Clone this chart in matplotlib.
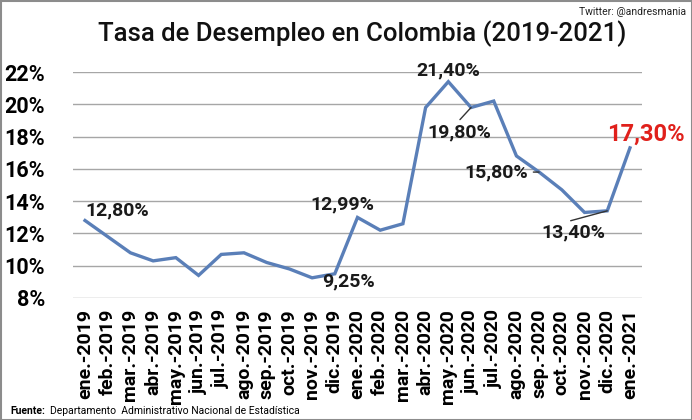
import matplotlib
matplotlib.use("Agg")
import matplotlib.pyplot as plt
from matplotlib.patches import Rectangle

plt.rcParams['font.family'] = ['Roboto', 'DejaVu Sans']

labels = ["ene.-2019", "feb.-2019", "mar.-2019", "abr.-2019", "may.-2019", "jun.-2019",
          "jul.-2019", "ago.-2019", "sep.-2019", "oct.-2019", "nov.-2019", "dic.-2019",
          "ene.-2020", "feb.-2020", "mar.-2020", "abr.-2020", "may.-2020", "jun.-2020",
          "jul.-2020", "ago.-2020", "sep.-2020", "oct.-2020", "nov.-2020", "dic.-2020",
          "ene.-2021"]
values = [12.8, 11.8, 10.8, 10.3, 10.5, 9.4, 10.7, 10.8, 10.2, 9.8, 9.25, 9.5,
          12.99, 12.2, 12.6, 19.8, 21.4, 19.8, 20.2, 16.8, 15.8, 14.7, 13.3, 13.4, 17.3]
yticks = [8, 10, 12, 14, 16, 18, 20, 22]

fig = plt.figure(figsize=(6.92, 4.2), dpi=100)
ax = fig.add_axes([73/692, 1-298/420, (642-73)/692, (298-72)/420])

x = list(range(len(values)))
ax.plot(x, values, color='#5A7FB8', lw=2.4, solid_joinstyle='miter', zorder=3)

ax.set_ylim(8, 22)
ax.set_xlim(-0.53, 24.53)
ax.set_yticks(yticks)
ax.set_yticklabels([f"{t}%" for t in yticks], fontsize=15.5, fontweight='bold')
ax.set_xticks(x)
ax.set_xticklabels(labels, rotation=90, fontsize=14, fontweight='bold')
ax.tick_params(length=0, pad=8)
ax.tick_params(axis='y', pad=20)
ax.grid(axis='y', color='#A6A6A6', lw=1)
ax.set_axisbelow(True)
for s in ax.spines.values():
    s.set_visible(False)

def fmt(v):
    return f"{v:.2f}%".replace('.', ',')

kw = dict(fontsize=14, fontweight='bold', color='#1a1a1a')
ax.annotate(fmt(values[0]), (0, values[0]), xytext=(0.0, 12.85), ha='left', va='bottom', **kw)
ax.annotate(fmt(values[12]), (12, values[12]), xytext=(12.75, 13.25), ha='right', va='bottom', **kw)
ax.annotate(fmt(values[10]), (10, values[10]), xytext=(11.6, 8.45), ha='center', va='bottom', **kw)
ax.annotate(fmt(values[16]), (16, values[16]), xytext=(16.0, 21.55), ha='center', va='bottom', **kw)
ax.annotate(fmt(values[17]), (17, values[17]), xytext=(16.5, 17.7), ha='center', va='bottom',
            arrowprops=dict(arrowstyle='-', color='#333333', lw=1, shrinkA=1, shrinkB=0,
                            relpos=(0.45, 1.0)), **kw)
ax.annotate(fmt(values[20]), (20, values[20]), xytext=(19.5, 15.8), ha='right', va='center',
            arrowprops=dict(arrowstyle='-', color='#333333', lw=1, shrinkA=2, shrinkB=0), **kw)
ax.annotate(fmt(values[23]), (23, values[23]), xytext=(21.5, 11.5), ha='center', va='bottom',
            arrowprops=dict(arrowstyle='-', color='#333333', lw=1, shrinkA=0, shrinkB=0,
                            relpos=(0.3, 1.0)), **kw)
ax.annotate(fmt(values[24]), (24, values[24]), xytext=(24.7, 17.45), ha='center', va='bottom',
            fontsize=17, fontweight='bold', color='#E0201B', annotation_clip=False)

fig.text(362/692, 1-34/420, "Tasa de Desempleo en Colombia (2019-2021)", ha='center', va='center',
         fontsize=18.5, fontweight='medium', color='#111111')
fig.text(686/692, 1-12/420, "Twitter: @andresmania", ha='right', va='center', fontsize=7.5,
         color='#222222')
fig.text(10/692, 1-411/420, "Fuente:", ha='left', va='center', fontsize=7.5, fontweight='bold')
fig.text(50/692, 1-411/420, "Departamento  Administrativo Nacional de Estadística", ha='left',
         va='center', fontsize=7.5)

fig.patches.append(Rectangle((0.5/692, 0.5/420), 1-1/692, 1-1/420, transform=fig.transFigure,
                             fill=False, edgecolor='#8c8c8c', lw=1.5))

fig.savefig("out.png", dpi=100)
